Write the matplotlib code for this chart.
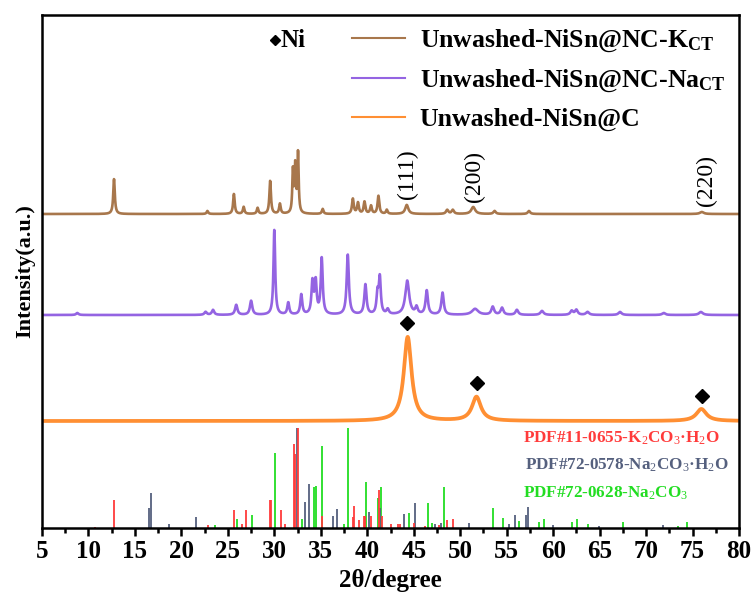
import numpy as np
import matplotlib
matplotlib.use("Agg")
import matplotlib.pyplot as plt
from matplotlib.ticker import MultipleLocator

plt.rcParams['font.family'] = ['Liberation Serif', 'DejaVu Serif']
plt.rcParams['mathtext.fontset'] = 'custom'
plt.rcParams['mathtext.rm'] = 'Liberation Serif'
plt.rcParams['mathtext.bf'] = 'Liberation Serif:bold'
plt.rcParams['mathtext.it'] = 'Liberation Serif:italic'

# ---------------- data ----------------
# Unwashed-NiSn@NC-K_CT : peak positions (2theta), heights, widths
brown_base = 314
brown_pos = [12.75, 22.8, 25.65, 26.7, 28.2, 29.55, 30.6, 32.0, 32.25, 32.55, 35.2,
             38.45, 39.0, 39.7, 40.4, 41.2, 42.1, 44.25, 48.6, 49.2, 51.4, 53.7, 57.4, 76.0]
brown_h = [35, 3, 20, 7, 6, 33, 10, 42, 46, 60, 5,
           15, 11, 12, 8, 18, 4, 9, 4, 4, 7, 3, 3, 2]
brown_w = [0.2, 0.2, 0.2, 0.2, 0.2, 0.2, 0.2, 0.16, 0.16, 0.16, 0.2,
           0.22, 0.22, 0.22, 0.22, 0.22, 0.2, 0.4, 0.3, 0.3, 0.5, 0.3, 0.3, 0.5]

# Unwashed-NiSn@NC-Na_CT
purple_base = 213
purple_pos = [8.8, 22.6, 23.4, 25.9, 27.5, 30.0, 31.5, 32.9, 34.1, 34.45, 35.1, 37.9,
              39.8, 41.1, 41.35, 42.2, 44.3, 45.3, 46.4, 48.1, 51.6, 53.5, 54.5, 56.1,
              58.8, 62.0, 62.5, 63.7, 67.2, 71.9, 75.9]
purple_h = [2, 3, 5, 10, 14, 85, 12, 20, 32, 32, 56, 60,
            30, 20, 36, 5, 34, 7, 24, 22, 6, 8, 7, 5,
            4, 4, 5, 3, 3, 2, 3]
purple_w = [0.3, 0.3, 0.3, 0.3, 0.3, 0.22, 0.25, 0.25, 0.25, 0.25, 0.25, 0.28,
            0.28, 0.25, 0.25, 0.3, 0.5, 0.3, 0.3, 0.3, 0.8, 0.35, 0.35, 0.35,
            0.4, 0.35, 0.35, 0.4, 0.4, 0.4, 0.5]

# Unwashed-NiSn@C
orange_base = 107
orange_pos = [44.35, 51.75, 75.95]
orange_h = [84, 24, 12]
orange_w = [1.0, 1.15, 1.3]

# Ni marks
ni_pos = [44.3, 51.8, 76.0]
ni_y = [205, 145, 132]

# Miller indices
hkl_labels = ['(111)', '(200)', '(220)']
hkl_pos = [44.3, 51.5, 76.45]
hkl_y = [354, 351, 347]

# Reference cards (stick patterns)
k_pos = [10.7, 12.77, 22.9, 25.66, 26.5, 26.9, 29.5, 29.62, 30.68, 31.2, 32.1, 32.26,
         32.6, 35.16, 38.45, 38.56, 39.06, 39.63, 39.72, 40.35, 41.24, 41.6, 42.5, 43.36,
         43.47, 45.0, 46.26, 47.7, 48.55, 49.27]
k_h = [1, 28, 3, 18, 4, 18, 28, 28, 18, 4, 84, 74,
       100, 12, 11, 22, 8, 12, 12, 12, 38, 12, 4, 4,
       4, 5, 2, 3, 8, 9]

s_pos = [16.46, 16.78, 18.7, 21.55, 32.4, 33.33, 33.69, 36.27, 36.77, 40.24, 41.35, 43.9,
         45.15, 47.3, 47.95, 50.99, 55.2, 55.9, 57.08, 57.25, 59.94, 64.96, 71.86]
s_h = [20, 35, 4, 11, 100, 26, 44, 12, 19, 16, 20, 14,
       25, 4, 5, 5, 4, 13, 13, 21, 3, 2, 3]

g_pos = [23.6, 26.0, 27.6, 30.07, 32.97, 34.23, 34.44, 35.16, 37.48, 37.95, 39.89, 41.14,
         41.5, 44.54, 46.58, 46.94, 48.3, 53.5, 54.64, 56.28, 58.5, 58.97, 62.0, 62.6,
         63.8, 67.5, 73.4, 74.44]
g_h = [3, 9, 13, 75, 9, 41, 42, 82, 4, 100, 46, 30,
       41, 15, 25, 5, 41, 20, 10, 7, 6, 9, 6, 9,
       4, 6, 2, 6]

x_ticks = [5, 10, 15, 20, 25, 30, 35, 40, 45, 50, 55, 60, 65, 70, 75, 80]

# ---------------- drawing ----------------
c_brown = '#a8774c'
c_purple = '#9464e2'
c_orange = '#ff8f33'
c_red = '#ff3b3b'
c_slate = '#55607e'
c_green = '#22dd22'

x = np.linspace(5, 80, 4001)


def profile(base, pos, h, w):
    y = np.full_like(x, float(base))
    for p, hh, ww in zip(pos, h, w):
        y += hh / (1.0 + ((x - p) / (ww / 2.0)) ** 2)
    return y


fig = plt.figure(figsize=(7.53, 5.95), dpi=100)
ax = fig.add_axes([42 / 753, 1 - 528 / 595, 697 / 753, 513 / 595])

l1, = ax.plot(x, profile(brown_base, brown_pos, brown_h, brown_w), color=c_brown, lw=1.9)
l2, = ax.plot(x, profile(purple_base, purple_pos, purple_h, purple_w), color=c_purple, lw=1.9)
l3, = ax.plot(x, profile(orange_base, orange_pos, orange_h, orange_w), color=c_orange, lw=2.7)

ax.vlines(g_pos, 0, g_h, color=c_green, lw=1.3)
ax.vlines(s_pos, 0, s_h, color=c_slate, lw=1.3)
ax.vlines(k_pos, 0, k_h, color=c_red, lw=1.3)

ax.plot(ni_pos, ni_y, 'D', color='black', ms=7, ls='none')

for lab, p, yy in zip(hkl_labels, hkl_pos, hkl_y):
    ax.text(p, yy, lab, rotation=90, ha='center', va='center', fontsize=17)

ax.set_xlim(5, 80)
ax.set_ylim(0, 513)
ax.set_xticks(x_ticks)
ax.xaxis.set_minor_locator(MultipleLocator(2.5))
ax.set_yticks([])
ax.tick_params(axis='x', which='major', direction='out', length=6, width=1.8,
               labelsize=18, pad=3)
ax.tick_params(axis='x', which='minor', direction='out', length=3.5, width=1.8)
for lbl in ax.get_xticklabels():
    lbl.set_fontweight('bold')
for sp in ax.spines.values():
    sp.set_linewidth(1.8)

ax.set_xlabel('2θ/degree', fontsize=18, fontweight='bold', labelpad=4)
ax.set_ylabel('Intensity(a.u.)', fontsize=16, fontweight='bold', labelpad=5)

# legend
leg = ax.legend([l1, l2, l3],
                [r'Unwashed-NiSn@NC-K$_{\mathbf{CT}}$',
                 r'Unwashed-NiSn@NC-Na$_{\mathbf{CT}}$',
                 'Unwashed-NiSn@C'],
                loc='upper left', bbox_to_anchor=(0.43, 0.995), frameon=False,
                prop={'family': 'Liberation Serif', 'weight': 'bold', 'size': 18.5},
                handlelength=2.06, handletextpad=0.58, labelspacing=0.53,
                borderaxespad=0.0, borderpad=0.4)
for lh in leg.get_lines():
    lh.set_linewidth(1.5)

ax.plot([0.334], [0.951], 'D', color='black', ms=5.5, transform=ax.transAxes)
ax.text(0.342, 0.951, 'Ni', transform=ax.transAxes, fontsize=18, fontweight='bold',
        va='center', ha='left')

ax.text(0.69, 0.175, r'PDF#11-0655-K$_2$CO$_3$·H$_2$O', transform=ax.transAxes,
        color=c_red, fontsize=12.3, fontweight='bold', va='center', ha='left')
ax.text(0.693, 0.123, r'PDF#72-0578-Na$_2$CO$_3$·H$_2$O', transform=ax.transAxes,
        color=c_slate, fontsize=12.3, fontweight='bold', va='center', ha='left')
ax.text(0.69, 0.068, r'PDF#72-0628-Na$_2$CO$_3$', transform=ax.transAxes,
        color=c_green, fontsize=12.3, fontweight='bold', va='center', ha='left')

fig.savefig('out.png', dpi=100)
